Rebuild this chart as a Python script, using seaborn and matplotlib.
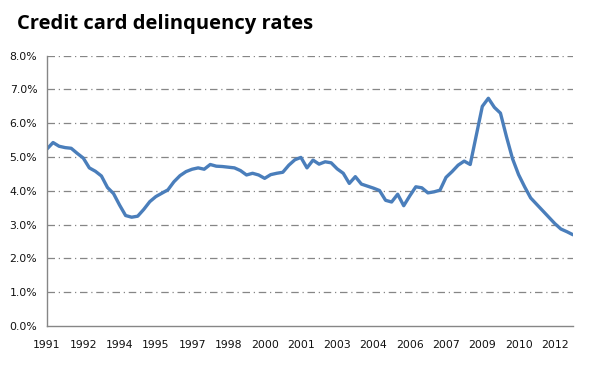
import matplotlib
matplotlib.use("Agg")
import matplotlib.pyplot as plt
import seaborn as sns
import numpy as np
import pandas as pd

# quarterly credit card delinquency rate (%), 1991 Q1 .. 2012 Q4
rates = [
    5.24, 5.43, 5.32, 5.28, 5.26, 5.11, 4.97, 4.68, 4.58, 4.44,
    4.10, 3.92, 3.58, 3.27, 3.22, 3.25, 3.45, 3.68, 3.83, 3.93,
    4.03, 4.27, 4.45, 4.57, 4.64, 4.68, 4.64, 4.78, 4.73, 4.72,
    4.70, 4.68, 4.60, 4.47, 4.52, 4.47, 4.37, 4.48, 4.52, 4.55,
    4.76, 4.92, 4.99, 4.68, 4.91, 4.79, 4.86, 4.83, 4.65, 4.52,
    4.22, 4.42, 4.20, 4.14, 4.08, 4.01, 3.72, 3.67, 3.90, 3.56,
    3.85, 4.12, 4.09, 3.94, 3.97, 4.02, 4.40, 4.57, 4.76, 4.88,
    4.78, 5.64, 6.50, 6.74, 6.47, 6.30, 5.60, 4.95, 4.48, 4.12,
    3.79, 3.60, 3.41, 3.22, 3.03, 2.87, 2.79, 2.70,
]
year_labels = ["1991", "1992", "1994", "1995", "1997", "1998", "2000", "2001",
               "2003", "2004", "2006", "2007", "2009", "2010", "2012"]
y_ticks = [0, 1, 2, 3, 4, 5, 6, 7, 8]

df = pd.DataFrame({"quarter": np.arange(len(rates)), "rate": rates})

sns.set_style("white")
plt.rcParams["font.family"] = ["DejaVu Sans"]

fig = plt.figure(figsize=(5.98, 3.67), dpi=100)
ax = fig.add_axes([47 / 598, 1 - 326 / 367, 526 / 598, (326 - 55.7) / 367])

sns.lineplot(data=df, x="quarter", y="rate", ax=ax, color="#4a7ebb", linewidth=2.4)

grid_col = "#868686"
ax.set_ylim(0, 8)
ax.set_xlim(0, len(rates) - 1)
ax.set_yticks(y_ticks)
ax.set_yticklabels([f"{v:.1f}%" for v in y_ticks], fontsize=7.8, color="#111111")
ax.set_xticks(np.arange(0, len(rates), 6))
ax.set_xticklabels(year_labels, fontsize=7.8, color="#111111")
ax.tick_params(axis="both", direction="out", length=4, width=1, color=grid_col, pad=3)
ax.tick_params(axis="x", pad=6)

for v in y_ticks[1:]:
    ax.axhline(v, color=grid_col, linewidth=0.9, linestyle=(0, (6, 3, 1, 3)), zorder=0)

for s in ["top", "right"]:
    ax.spines[s].set_visible(False)
for s in ["left", "bottom"]:
    ax.spines[s].set_color(grid_col)
    ax.spines[s].set_linewidth(1)

ax.set_xlabel("")
ax.set_ylabel("")

fig.text(17 / 598, 1 - 14 / 367, "Credit card delinquency rates", fontsize=14.5,
         fontweight="bold", family=["Open Sans", "DejaVu Sans"], va="top", ha="left",
         color="black")

fig.savefig("out.png", dpi=100)
